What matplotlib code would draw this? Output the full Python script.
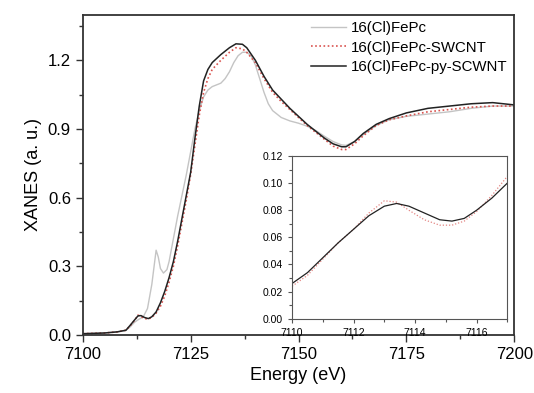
import matplotlib.pyplot as plt
from matplotlib.ticker import MultipleLocator

plt.rcParams['font.family'] = ['Liberation Sans', 'DejaVu Sans']

# main panel data (Energy in eV, XANES in a.u.)
e_fepc = [7100, 7105, 7108, 7110, 7111, 7112, 7113, 7114, 7115, 7116, 7117, 7117.5,
          7118, 7118.7, 7119.5, 7120, 7121, 7122, 7123, 7124, 7125, 7126, 7127,
          7128, 7129, 7130, 7132, 7133, 7134, 7135, 7136, 7137, 7138, 7139, 7140,
          7141, 7142, 7143, 7144, 7146, 7148, 7150, 7152, 7154, 7156, 7158, 7160,
          7161, 7163, 7165, 7168, 7171, 7175, 7180, 7185, 7190, 7195, 7200]
fepc = [0.005, 0.008, 0.013, 0.02, 0.035, 0.055, 0.068, 0.078, 0.115, 0.22, 0.37, 0.34,
        0.29, 0.27, 0.285, 0.32, 0.42, 0.52, 0.61, 0.70, 0.80, 0.90, 0.98,
        1.04, 1.07, 1.085, 1.10, 1.12, 1.15, 1.19, 1.22, 1.235, 1.235, 1.22, 1.18,
        1.12, 1.06, 1.01, 0.98, 0.95, 0.935, 0.925, 0.912, 0.893, 0.868, 0.845, 0.83,
        0.828, 0.845, 0.875, 0.915, 0.94, 0.955, 0.965, 0.975, 0.99, 1.0, 1.0]

e_cnt = [7100, 7105, 7108, 7110, 7111, 7112, 7112.8, 7113.5, 7114.3, 7115.2, 7116, 7117,
         7118, 7119, 7120, 7121, 7122, 7123, 7124, 7125, 7126, 7127, 7128, 7129,
         7130, 7132, 7134, 7135.5, 7137, 7138, 7140, 7142, 7144, 7146, 7148, 7150,
         7152, 7154, 7156, 7158, 7160, 7161, 7163, 7165, 7168, 7171, 7175, 7180,
         7185, 7190, 7195, 7200]
swcnt = [0.005, 0.008, 0.013, 0.02, 0.04, 0.063, 0.086, 0.08, 0.071, 0.069, 0.076, 0.095,
         0.125, 0.17, 0.23, 0.30, 0.39, 0.49, 0.59, 0.70, 0.83, 0.96, 1.06, 1.12,
         1.16, 1.20, 1.235, 1.255, 1.25, 1.235, 1.19, 1.12, 1.06, 1.02, 0.985, 0.95,
         0.915, 0.885, 0.855, 0.825, 0.81, 0.81, 0.835, 0.87, 0.915, 0.94, 0.957, 0.975,
         0.985, 0.995, 1.0, 1.0]
py_swcnt = [0.005, 0.008, 0.013, 0.02, 0.042, 0.065, 0.083, 0.084, 0.076, 0.071, 0.079, 0.10,
            0.14, 0.19, 0.25, 0.32, 0.41, 0.51, 0.61, 0.71, 0.86, 1.00, 1.11, 1.16,
            1.19, 1.225, 1.255, 1.272, 1.27, 1.255, 1.20, 1.13, 1.07, 1.03, 0.99, 0.955,
            0.92, 0.89, 0.86, 0.835, 0.822, 0.822, 0.845, 0.88, 0.92, 0.945, 0.97, 0.99,
            1.0, 1.01, 1.015, 1.005]

# inset data (pre-edge region)
e_in = [7110, 7110.5, 7111, 7111.5, 7112, 7112.5, 7113, 7113.4, 7113.8, 7114.3,
        7114.8, 7115.2, 7115.6, 7116, 7116.5, 7117]
swcnt_in = [0.024, 0.032, 0.044, 0.056, 0.066, 0.078, 0.087, 0.086, 0.080, 0.073,
            0.069, 0.069, 0.072, 0.079, 0.091, 0.105]
py_in = [0.026, 0.034, 0.045, 0.056, 0.066, 0.076, 0.083, 0.085, 0.083, 0.078,
         0.073, 0.072, 0.074, 0.080, 0.089, 0.100]

labels = ['16(Cl)FePc', '16(Cl)FePc-SWCNT', '16(Cl)FePc-py-SCWNT']
c_gray = '#c4c4c4'
c_red = '#d9534f'
c_black = '#222222'

fig = plt.figure(figsize=(5.34, 3.93), dpi=100)
ax = fig.add_axes([0.155, 0.148, 0.808, 0.815])
ax.plot(e_fepc, fepc, color=c_gray, lw=1.0, label=labels[0])
ax.plot(e_cnt, swcnt, color=c_red, lw=1.2, ls=(0, (1, 1.5)), label=labels[1])
ax.plot(e_cnt, py_swcnt, color=c_black, lw=1.1, label=labels[2])

ax.set_xlim(7100, 7200)
ax.set_ylim(0, 1.4)
ax.xaxis.set_major_locator(MultipleLocator(25))
ax.xaxis.set_minor_locator(MultipleLocator(12.5))
ax.yaxis.set_major_locator(MultipleLocator(0.3))
ax.yaxis.set_minor_locator(MultipleLocator(0.15))
ax.yaxis.set_major_formatter(plt.FormatStrFormatter('%.1f'))
ax.tick_params(which='both', direction='out', labelsize=12, width=1.0, color='#333333')
ax.tick_params(which='major', length=5)
ax.tick_params(which='minor', length=3)
for s in ax.spines.values():
    s.set_linewidth(1.3)
    s.set_color('#333333')
ax.set_xlabel('Energy (eV)', fontsize=13)
ax.set_ylabel('XANES (a. u.)', fontsize=13)
ax.legend(loc='upper right', frameon=False, fontsize=10.8, handlelength=2.3,
          handletextpad=0.35, labelspacing=0.35, borderaxespad=0.05)

ins = fig.add_axes([0.547, 0.189, 0.403, 0.414])
ins.plot(e_in, swcnt_in, color=c_red, lw=0.9, ls=(0, (1, 1.5)), alpha=0.7)
ins.plot(e_in, py_in, color=c_black, lw=0.9)
ins.set_xlim(7110, 7117)
ins.set_ylim(0, 0.12)
ins.xaxis.set_major_locator(MultipleLocator(2))
ins.xaxis.set_minor_locator(MultipleLocator(1))
ins.yaxis.set_major_locator(MultipleLocator(0.02))
ins.yaxis.set_minor_locator(MultipleLocator(0.01))
ins.yaxis.set_major_formatter(plt.FormatStrFormatter('%.2f'))
ins.tick_params(which='both', direction='out', labelsize=7.5, width=0.8, color='#555555')
ins.tick_params(which='major', length=3)
ins.tick_params(which='minor', length=2)
for s in ins.spines.values():
    s.set_linewidth(0.8)
    s.set_color('#555555')

fig.savefig('out.png', dpi=100)
